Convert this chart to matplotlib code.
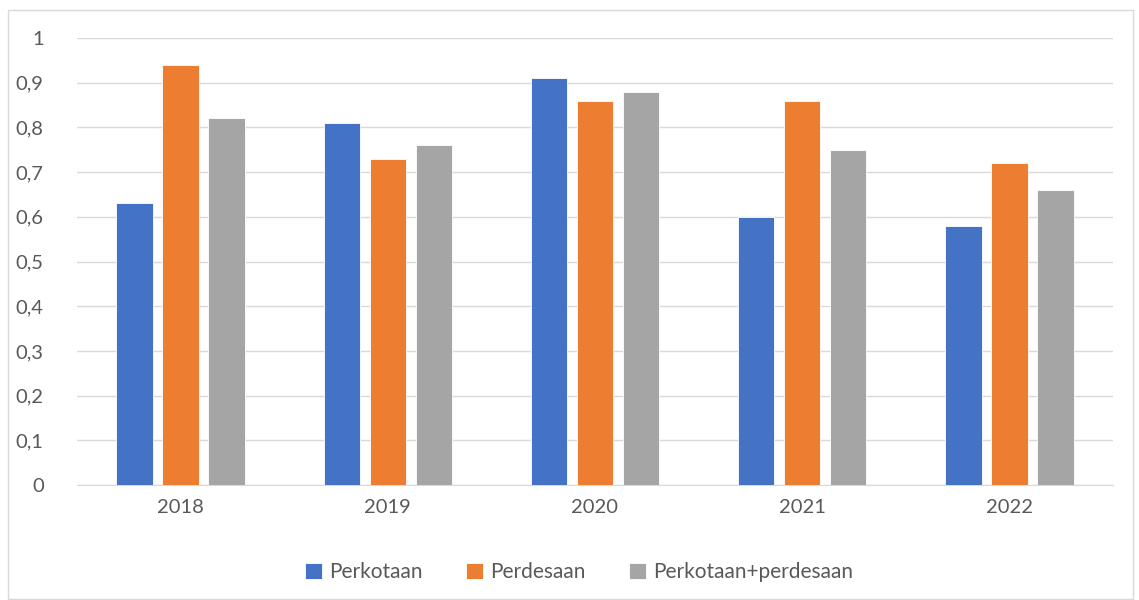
import matplotlib
matplotlib.use("Agg")
import matplotlib.pyplot as plt
import numpy as np
from matplotlib.patches import Rectangle

years = ["2018", "2019", "2020", "2021", "2022"]
perkotaan = [0.63, 0.81, 0.91, 0.60, 0.58]
perdesaan = [0.94, 0.73, 0.86, 0.86, 0.72]
gabungan = [0.82, 0.76, 0.88, 0.75, 0.66]
series_names = ["Perkotaan", "Perdesaan", "Perkotaan+perdesaan"]
colors = ["#4472C4", "#ED7D31", "#A5A5A5"]
yticks = [0, 0.1, 0.2, 0.3, 0.4, 0.5, 0.6, 0.7, 0.8, 0.9, 1.0]

plt.rcParams['font.family'] = ['Lato', 'DejaVu Sans']

fig = plt.figure(figsize=(11.39, 6.0), dpi=100)
fig.patches.append(Rectangle((8/1139, 0.002), 1125/1139, 1-10/600-0.002, transform=fig.transFigure,
                             fill=False, edgecolor="#D9D9D9", linewidth=1.0))
ax = fig.add_axes([77/1139, 1-485/600, (1113-77)/1139, (485-38)/600])

x = np.arange(len(years))
w = 0.176
step = 0.222
for i, (vals, name, c) in enumerate(zip([perkotaan, perdesaan, gabungan], series_names, colors)):
    ax.bar(x + (i - 1) * step, vals, width=w, color=c, label=name, edgecolor="white", linewidth=0.6, zorder=3)

ax.set_xlim(-0.5, len(years) - 0.5)
ax.set_ylim(0, 1)
ax.set_yticks(yticks)
ax.set_yticklabels([("%g" % t).replace(".", ",") for t in yticks])
ax.set_xticks(x)
ax.set_xticklabels(years)
ax.grid(axis="y", color="#D9D9D9", linewidth=1.0, zorder=0)
for s in ["top", "right", "left"]:
    ax.spines[s].set_visible(False)
ax.spines["bottom"].set_color("#D9D9D9")
ax.tick_params(axis="both", length=0, labelsize=14.5, labelcolor="#595959")
ax.tick_params(axis="y", pad=24)
ax.tick_params(axis="x", pad=10)

leg = fig.legend(loc="center", bbox_to_anchor=(579/1139, 1-572/600), ncol=3, frameon=False,
                 fontsize=15, handlelength=0.8, handleheight=0.8, handletextpad=0.35, columnspacing=2.1)
for t in leg.get_texts():
    t.set_color("#595959")

fig.savefig("out.png", dpi=100)
